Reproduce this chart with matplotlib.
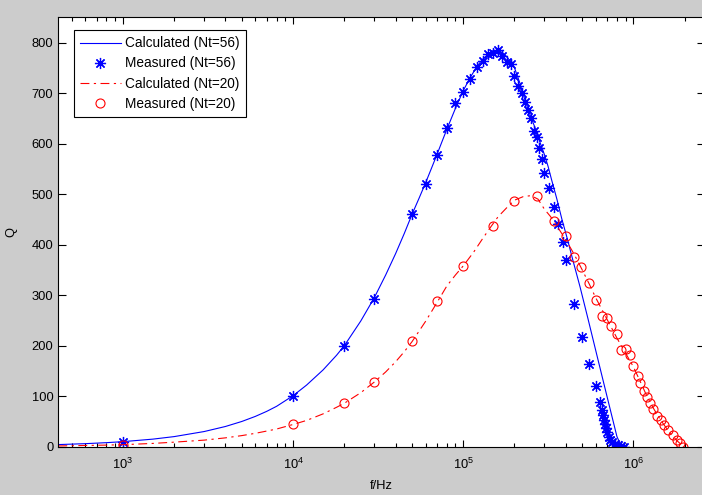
import matplotlib
matplotlib.use("Agg")
import matplotlib.pyplot as plt

plt.rcParams['font.family'] = ['Liberation Sans', 'DejaVu Sans']
plt.rcParams['mathtext.fontset'] = 'custom'
plt.rcParams['mathtext.rm'] = 'Liberation Sans'

# Nt=56 coil: model curve and measurements
calc56_f = [417, 600, 800, 1e3, 1.5e3, 2e3, 3e3, 4e3, 5e3, 6e3, 7e3, 8e3,
            1e4, 1.2e4, 1.5e4, 1.8e4, 2e4, 2.5e4, 3e4, 3.5e4, 4e4, 4.5e4,
            5e4, 5.5e4, 6e4, 6.5e4, 7e4, 7.5e4, 8e4, 9e4, 1e5, 1.1e5, 1.2e5,
            1.3e5, 1.4e5, 1.5e5, 1.6e5, 1.7e5, 1.8e5, 1.9e5, 2e5, 2.15e5,
            2.3e5, 2.45e5, 2.65e5, 2.8e5, 3e5, 3.15e5, 3.3e5, 3.55e5, 3.8e5,
            4.1e5, 4.4e5, 4.85e5, 5.4e5, 6.1e5, 7e5, 8e5, 8.5e5]
calc56_q = [4.2, 6, 8, 10, 15, 20, 30, 40, 50, 60, 70, 80,
            101, 122, 152, 181, 200, 249, 295, 340, 382, 422,
            460, 492, 522, 551, 578, 604, 628, 670, 705, 731, 752,
            767, 777, 782, 784, 780, 772, 762, 750, 720,
            687, 660, 630, 606, 578, 555, 529, 490, 450,
            410, 370, 317, 254, 181, 99, 20, 0]

meas56_f = [1e3, 1e4, 2e4, 3e4, 5e4, 6e4, 7e4, 8e4, 9e4, 1e5, 1.1e5, 1.2e5,
            1.3e5, 1.4e5, 1.5e5, 1.6e5, 1.7e5, 1.8e5, 1.9e5, 2.0e5, 2.1e5,
            2.2e5, 2.3e5, 2.4e5, 2.5e5, 2.6e5, 2.7e5, 2.8e5, 2.9e5, 3.0e5,
            3.2e5, 3.4e5, 3.6e5, 3.85e5, 4.0e5, 4.45e5, 5.0e5, 5.5e5, 6.0e5,
            6.4e5, 6.5e5, 6.6e5, 6.7e5, 6.8e5, 6.9e5, 7.0e5, 7.15e5, 7.3e5,
            7.5e5, 7.8e5, 8.1e5, 8.45e5, 8.8e5]
meas56_q = [10, 101, 200, 293, 461, 521, 578, 630, 680, 702, 727, 752,
            764, 777, 780, 785, 773, 762, 758, 734, 714,
            701, 682, 666, 651, 625, 613, 592, 569, 542,
            512, 474, 441, 405, 369, 283, 218, 163, 120,
            88, 73, 63, 53, 45, 37, 29, 19, 13,
            9, 5, 3, 1, 0]

# Nt=20 coil: model curve and measurements
calc20_f = [417, 600, 800, 1e3, 1.5e3, 2e3, 3e3, 4e3, 5e3, 6e3, 7e3, 8e3,
            1e4, 1.2e4, 1.5e4, 1.8e4, 2e4, 2.5e4, 3e4, 3.5e4, 4e4, 4.5e4,
            5e4, 6e4, 7e4, 8e4, 9e4, 1e5, 1.15e5, 1.3e5, 1.45e5, 1.6e5,
            1.8e5, 2e5, 2.25e5, 2.5e5, 2.75e5, 3e5, 3.25e5, 3.5e5, 4e5,
            4.5e5, 5e5, 5.5e5, 6e5, 7e5, 8e5, 9e5, 1e6, 1.1e6, 1.2e6, 1.3e6,
            1.4e6, 1.5e6, 1.6e6, 1.7e6, 1.8e6, 1.9e6, 2e6]
calc20_q = [1.5, 2.4, 3.2, 4, 6.5, 9, 13, 17.5, 22, 26.5, 31, 35,
            44, 52, 65, 78, 86, 107, 128, 148, 168, 188,
            208, 248, 285, 318, 340, 358, 385, 412, 435, 455,
            473, 488, 495, 497, 490, 470, 456, 440, 410,
            380, 350, 322, 295, 252, 215, 185, 158, 128, 100, 78,
            60, 45, 32, 22, 12, 5, 0]

meas20_f = [1e3, 1e4, 2e4, 3e4, 5e4, 7e4, 1e5, 1.5e5, 2e5, 2.7e5, 3.4e5,
            4.0e5, 4.45e5, 4.9e5, 5.5e5, 6.0e5, 6.5e5, 7.0e5, 7.4e5, 8.0e5,
            8.4e5, 9.0e5, 9.5e5, 1.0e6, 1.06e6, 1.1e6, 1.16e6, 1.2e6, 1.25e6,
            1.3e6, 1.38e6, 1.45e6, 1.52e6, 1.6e6, 1.7e6, 1.8e6, 1.88e6, 1.95e6]
meas20_q = [3, 44, 86, 129, 210, 288, 357, 436, 486, 496, 446,
            418, 376, 356, 325, 290, 259, 255, 239, 224,
            192, 193, 182, 159, 139, 126, 111, 99, 87,
            74, 61, 53, 43, 33, 23, 13, 7, 0]

fig = plt.figure(figsize=(7.02, 4.95), dpi=100, facecolor='#cccccc')
ax = fig.add_axes([58.3 / 702, 48.3 / 495, 646.6 / 702, 429.4 / 495])

# matlab-style '*' marker: eight-spoke asterisk
asterisk = (8, 2, 0)

ax.plot(calc56_f, calc56_q, '-', color='#0000ff', lw=0.8,
        label='Calculated (Nt=56)')
ax.plot(meas56_f, meas56_q, ls='none', marker=asterisk, color='#0000ff',
        ms=8, mew=0.9, label='Measured (Nt=56)')
ax.plot(calc20_f, calc20_q, color='#ff0000', lw=0.8, dashes=(8, 4, 2, 4),
        label='Calculated (Nt=20)')
ax.plot(meas20_f, meas20_q, 'o', color='#ff0000', mfc='none', ms=6.5,
        mew=0.8, label='Measured (Nt=20)')

ax.set_xscale('log')
ax.set_xlim(10 ** 2.62, 10 ** 6.42)
ax.set_ylim(0, 850)
ax.set_yticks(range(0, 900, 100))

ax.tick_params(which='both', direction='in', top=True, right=True,
               labelsize=9.3, width=0.8)
ax.tick_params(axis='y', which='major', length=6)
ax.tick_params(axis='x', which='major', length=5, pad=7)
ax.tick_params(axis='x', which='minor', length=3)
for s in ax.spines.values():
    s.set_linewidth(0.8)

ax.set_xlabel('f/Hz', fontsize=9.3, labelpad=6)
ax.set_ylabel('Q', fontsize=9.3, labelpad=10)

leg = ax.legend(loc='upper left', bbox_to_anchor=(0.024, 0.970),
                borderaxespad=0, fontsize=9.8, numpoints=1, fancybox=False,
                edgecolor='black', framealpha=1, handlelength=3.0,
                labelspacing=0.45, borderpad=0.45, handletextpad=0.3)
leg.get_frame().set_linewidth(0.8)

fig.savefig('out.png', dpi=100, facecolor=fig.get_facecolor())
